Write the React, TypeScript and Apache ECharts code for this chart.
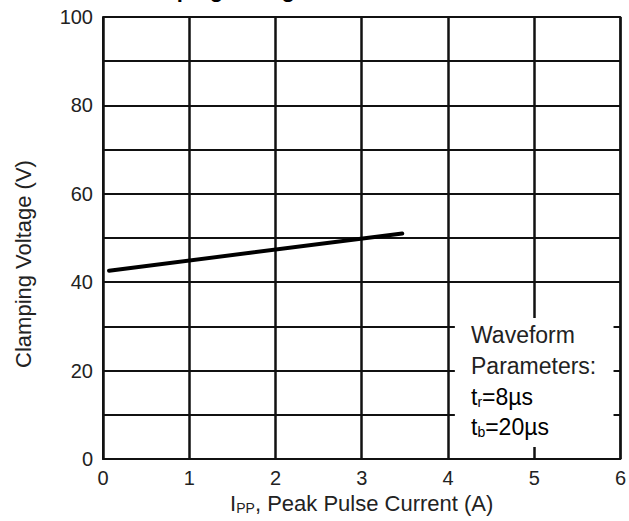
import React, { useEffect, useRef } from "react";
import * as echarts from "echarts";

const titleText = "Clamping Voltage vs. Peak Pulse Current";
const xTicks = [0, 1, 2, 3, 4, 5, 6];
const yLabelValues = [0, 20, 40, 60, 80, 100];
const currentA = [0.07, 3.47];
const voltageV = [42.6, 51.0];
const boxCorners = [
  [4.08, 31.9],
  [5.92, 2.7],
];
const boxLines = ["Waveform", "Parameters:", "tr=8µs", "tb=20µs"];

const FONT = "'Liberation Sans', Arial, sans-serif";

export default function App() {
  const ref = useRef<HTMLDivElement>(null);
  useEffect(() => {
    if (!ref.current) return;
    const chart = echarts.init(ref.current, undefined, { renderer: "svg" });
    const lineData = currentA.map((x, i) => [x, voltageV[i]]);
    const xMax = xTicks[xTicks.length - 1];
    const yMax = yLabelValues[yLabelValues.length - 1];
    const frameData = [
      [0, yMax],
      [xMax, yMax],
      [xMax, 0],
    ];
    const rich = {
      a: { fontSize: 22, fontFamily: FONT, color: "#222" },
      s: { fontSize: 14, fontFamily: FONT, color: "#222", padding: [9, 0, 0, 0] },
    };
    const boxRich = {
      a: { fontSize: 23, fontFamily: FONT, color: "#222" },
      s: { fontSize: 14, fontFamily: FONT, color: "#222", padding: [9, 0, 0, 0] },
    };
    chart.setOption({
      animation: false,
      backgroundColor: "#fff",
      textStyle: { fontFamily: FONT },
      grid: {
        left: 103,
        right: 5,
        top: 17,
        bottom: 62,
        show: false,
      },
      xAxis: {
        type: "value",
        min: xTicks[0],
        max: xMax,
        interval: 1,
        name: "{a|I}{s|PP}{a|, Peak Pulse Current (A)}",
        nameLocation: "middle",
        nameGap: 27,
        nameTextStyle: { rich },
        axisLine: { show: true, lineStyle: { color: "#111", width: 2 } },
        axisTick: { show: false },
        axisLabel: { fontSize: 20, color: "#222", margin: 9, fontFamily: FONT },
        splitLine: { show: true, lineStyle: { color: "#111", width: 2.5 } },
      },
      yAxis: {
        type: "value",
        min: 0,
        max: yMax,
        interval: 10,
        axisLine: { show: true, lineStyle: { color: "#111", width: 2 } },
        axisTick: { show: false },
        axisLabel: {
          fontSize: 20,
          color: "#222",
          margin: 10,
          fontFamily: FONT,
          formatter: (v: number) => (yLabelValues.includes(v) ? String(v) : ""),
        },
        splitLine: { show: true, lineStyle: { color: "#111", width: 2 } },
      },
      series: [
        {
          type: "line",
          data: [],
          symbol: "none",
          z: 1,
          markArea: {
            silent: true,
            itemStyle: { color: "#fff", opacity: 1 },
            data: [[{ coord: boxCorners[0] }, { coord: boxCorners[1] }]],
          },
        },
        {
          type: "line",
          data: frameData,
          symbol: "none",
          z: 3,
          clip: false,
          lineStyle: { color: "#111", width: 2 },
        },
        {
          type: "line",
          data: lineData,
          symbol: "none",
          z: 5,
          lineStyle: { color: "#000", width: 4, cap: "round" },
        },
      ],
      graphic: [
        {
          type: "text",
          z: 100,
          left: 123,
          top: -22,
          style: {
            text: titleText,
            font: `bold 22px ${FONT}`,
            fill: "#000",
          },
        },
        {
          type: "text",
          z: 100,
          x: 23,
          y: 264,
          rotation: Math.PI / 2,
          style: {
            text: "Clamping Voltage (V)",
            font: `22px ${FONT}`,
            fill: "#222",
            align: "center",
            verticalAlign: "middle",
          },
        },
        {
          type: "text",
          z: 100,
          x: 471,
          y: 335,
          style: { text: boxLines[0], font: `23px ${FONT}`, fill: "#222", verticalAlign: "middle" },
        },
        {
          type: "text",
          z: 100,
          x: 471,
          y: 366,
          style: { text: boxLines[1], font: `23px ${FONT}`, fill: "#222", verticalAlign: "middle" },
        },
        {
          type: "text",
          z: 100,
          x: 471,
          y: 397,
          style: {
            text: "{a|t}{s|r}{a|=8µs}",
            rich: boxRich,
            verticalAlign: "middle",
          },
        },
        {
          type: "text",
          z: 100,
          x: 471,
          y: 427,
          style: {
            text: "{a|t}{s|b}{a|=20µs}",
            rich: boxRich,
            verticalAlign: "middle",
          },
        },
      ],
    });
    return () => chart.dispose();
  }, []);
  return (
    <div
      ref={ref}
      style={{ position: "fixed", left: 0, top: 0, width: 629, height: 521 }}
    />
  );
}
